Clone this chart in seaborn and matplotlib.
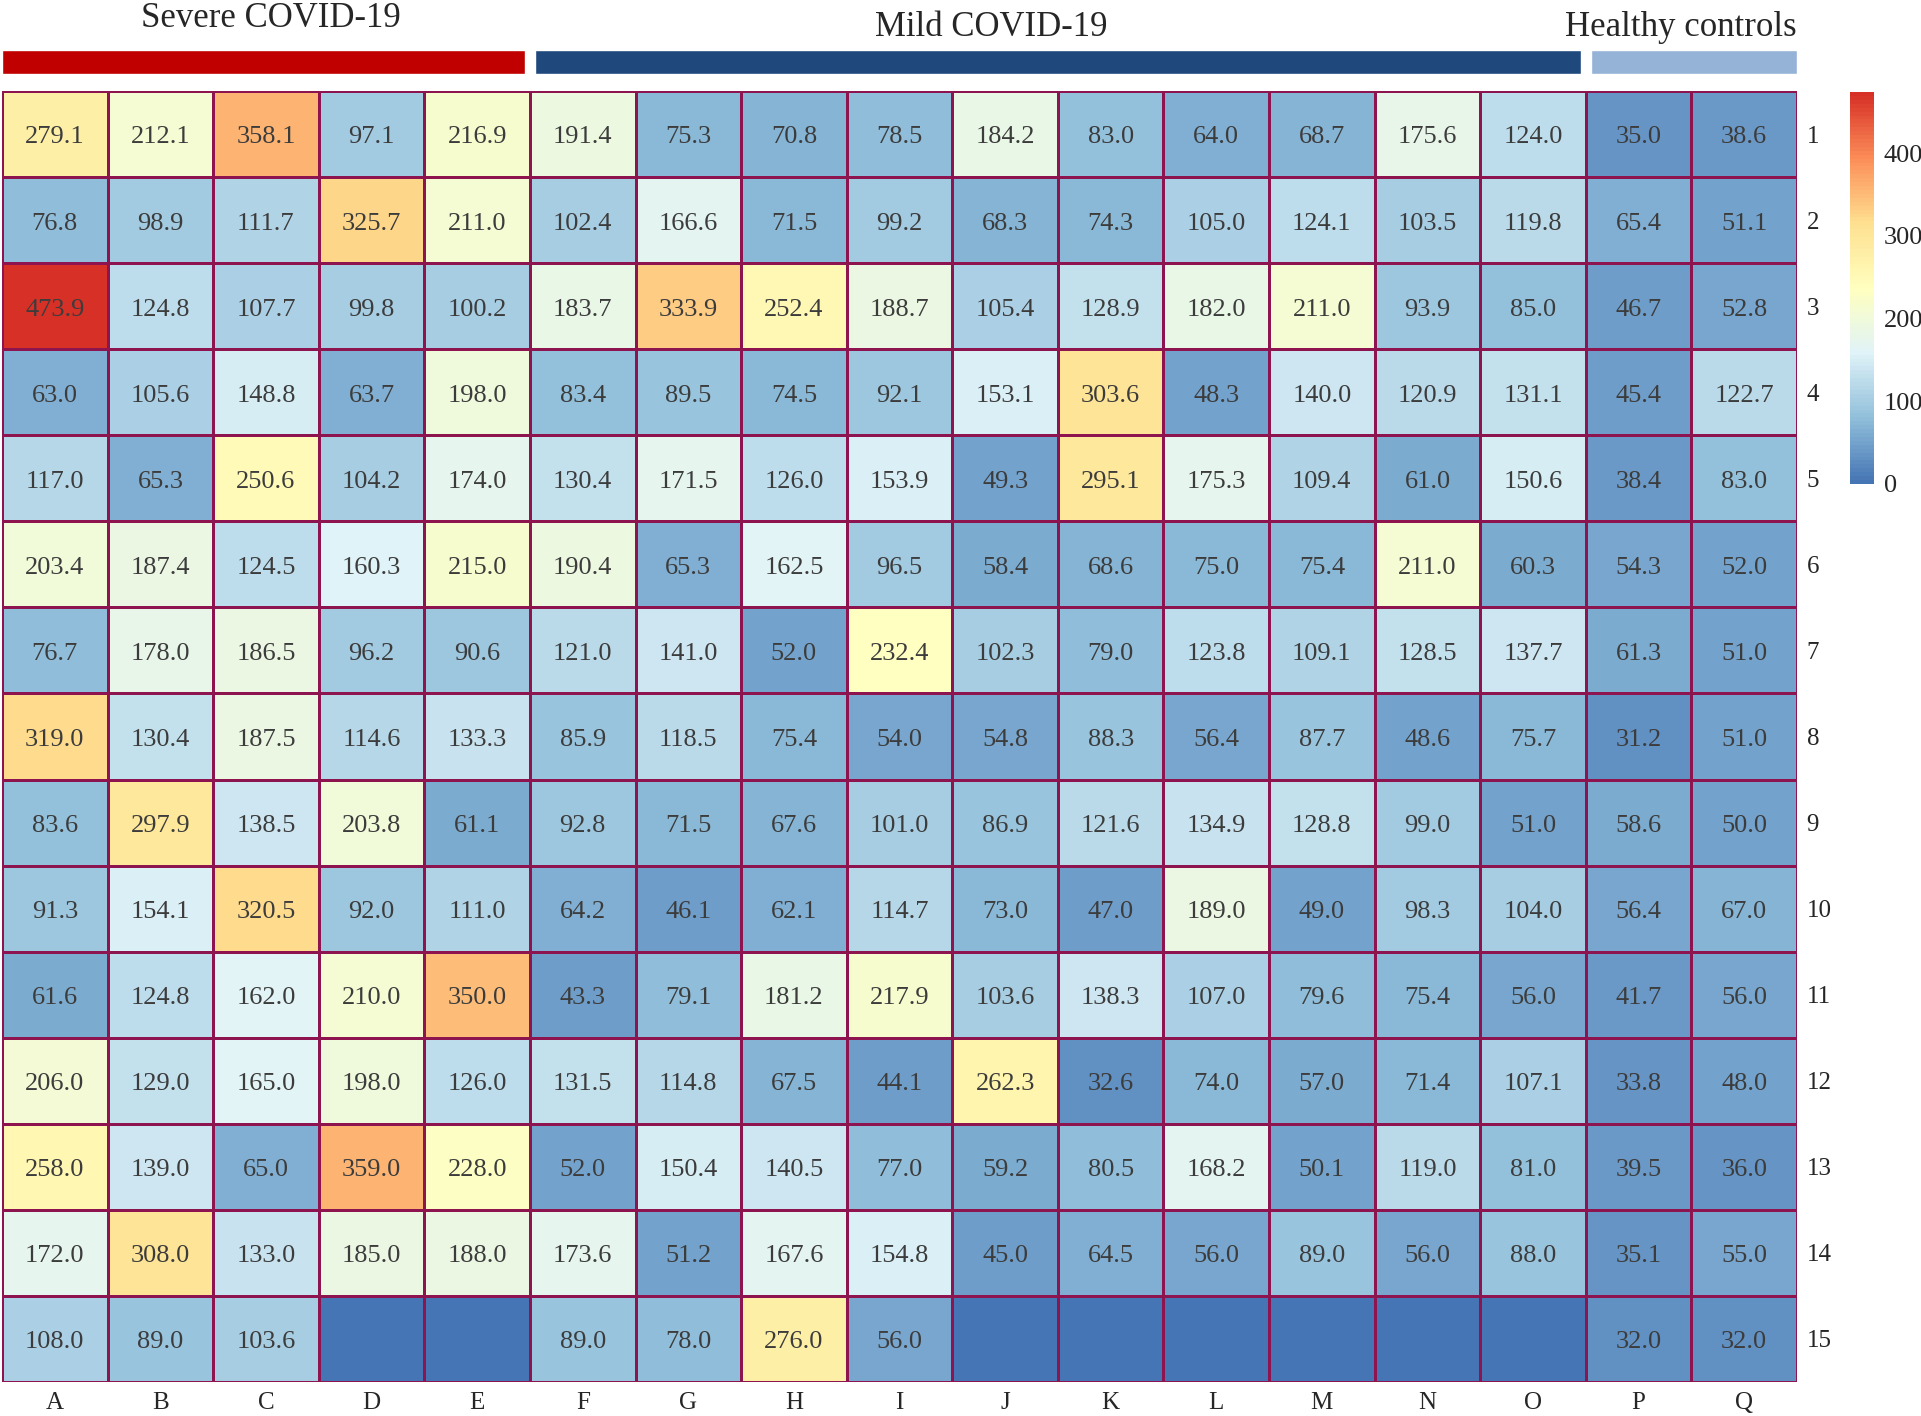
import numpy as np
import pandas as pd
import matplotlib
matplotlib.use("Agg")
import matplotlib.pyplot as plt
from matplotlib.colors import LinearSegmentedColormap
import seaborn as sns

# data (rows 1-15, samples A-Q); NaN = empty cell
samples = list("ABCDEFGHIJKLMNOPQ")
rows = [str(i) for i in range(1, 16)]

r1 = [279.1, 212.1, 358.1, 97.1, 216.9, 191.4, 75.3, 70.8, 78.5, 184.2, 83.0, 64.0, 68.7, 175.6, 124.0, 35.0, 38.6]
r2 = [76.8, 98.9, 111.7, 325.7, 211.0, 102.4, 166.6, 71.5, 99.2, 68.3, 74.3, 105.0, 124.1, 103.5, 119.8, 65.4, 51.1]
r3 = [473.9, 124.8, 107.7, 99.8, 100.2, 183.7, 333.9, 252.4, 188.7, 105.4, 128.9, 182.0, 211.0, 93.9, 85.0, 46.7, 52.8]
r4 = [63.0, 105.6, 148.8, 63.7, 198.0, 83.4, 89.5, 74.5, 92.1, 153.1, 303.6, 48.3, 140.0, 120.9, 131.1, 45.4, 122.7]
r5 = [117.0, 65.3, 250.6, 104.2, 174.0, 130.4, 171.5, 126.0, 153.9, 49.3, 295.1, 175.3, 109.4, 61.0, 150.6, 38.4, 83.0]
r6 = [203.4, 187.4, 124.5, 160.3, 215.0, 190.4, 65.3, 162.5, 96.5, 58.4, 68.6, 75.0, 75.4, 211.0, 60.3, 54.3, 52.0]
r7 = [76.7, 178.0, 186.5, 96.2, 90.6, 121.0, 141.0, 52.0, 232.4, 102.3, 79.0, 123.8, 109.1, 128.5, 137.7, 61.3, 51.0]
r8 = [319.0, 130.4, 187.5, 114.6, 133.3, 85.9, 118.5, 75.4, 54.0, 54.8, 88.3, 56.4, 87.7, 48.6, 75.7, 31.2, 51.0]
r9 = [83.6, 297.9, 138.5, 203.8, 61.1, 92.8, 71.5, 67.6, 101.0, 86.9, 121.6, 134.9, 128.8, 99.0, 51.0, 58.6, 50.0]
r10 = [91.3, 154.1, 320.5, 92.0, 111.0, 64.2, 46.1, 62.1, 114.7, 73.0, 47.0, 189.0, 49.0, 98.3, 104.0, 56.4, 67.0]
r11 = [61.6, 124.8, 162.0, 210.0, 350.0, 43.3, 79.1, 181.2, 217.9, 103.6, 138.3, 107.0, 79.6, 75.4, 56.0, 41.7, 56.0]
r12 = [206.0, 129.0, 165.0, 198.0, 126.0, 131.5, 114.8, 67.5, 44.1, 262.3, 32.6, 74.0, 57.0, 71.4, 107.1, 33.8, 48.0]
r13 = [258.0, 139.0, 65.0, 359.0, 228.0, 52.0, 150.4, 140.5, 77.0, 59.2, 80.5, 168.2, 50.1, 119.0, 81.0, 39.5, 36.0]
r14 = [172.0, 308.0, 133.0, 185.0, 188.0, 173.6, 51.2, 167.6, 154.8, 45.0, 64.5, 56.0, 89.0, 56.0, 88.0, 35.1, 55.0]
r15 = [108.0, 89.0, 103.6, np.nan, np.nan, 89.0, 78.0, 276.0, 56.0, np.nan, np.nan, np.nan, np.nan, np.nan, np.nan, 32.0, 32.0]

groups = ["Severe COVID-19", "Mild COVID-19", "Healthy controls"]
group_sizes = [5, 10, 2]
group_colors = ["#C00000", "#1F497D", "#95B3D7"]

cbar_ticks = [0, 100, 200, 300, 400]

df = pd.DataFrame([r1, r2, r3, r4, r5, r6, r7, r8, r9, r10, r11, r12, r13, r14, r15],
                  index=rows, columns=samples)
labels = df.map(lambda v: "" if pd.isna(v) else f"{v:.1f}")

# pheatmap-style palette
cmap = LinearSegmentedColormap.from_list(
    "rdylbu", ["#4575B4", "#91BFDB", "#E0F3F8", "#FFFFBF", "#FEE090", "#FC8D59", "#D73027"], N=100)

sns.set_style("white")
plt.rcParams["font.family"] = ["Liberation Serif", "DejaVu Serif"]

W, H = 1921, 1416
fig = plt.figure(figsize=(W / 100, H / 100), dpi=100)

hm_l, hm_r, hm_t, hm_b = 2, 1797, 91, 1382
ax = fig.add_axes([hm_l / W, 1 - hm_b / H, (hm_r - hm_l) / W, (hm_b - hm_t) / H])
cax = fig.add_axes([1850 / W, 1 - 484 / H, 24 / W, (484 - 92) / H])

sns.heatmap(df.fillna(0), ax=ax, cbar_ax=cax, cmap=cmap, vmin=0, vmax=474,
            annot=labels, fmt="", linewidths=1.8, linecolor="#8E1450",
            annot_kws={"fontsize": 19, "color": "#3C3C3C", "fontfamily": "Liberation Serif"},
            cbar_kws={"ticks": cbar_ticks})

# numbers sit slightly below the cell centre in the reference
for t in ax.texts:
    x, y = t.get_position()
    t.set_position((x, y + 0.04))

ax.tick_params(axis="both", length=0, labelsize=18)
ax.tick_params(axis="x", pad=7)
ax.yaxis.tick_right()
ax.tick_params(axis="y", pad=7, labelrotation=0)
ax.set_xlabel("")
ax.set_ylabel("")

cax.tick_params(length=0, labelsize=19, pad=7)
ax.collections[0].colorbar.outline.set_visible(False)

# group header bars and labels
hax = fig.add_axes([hm_l / W, 1 - hm_t / H, (hm_r - hm_l) / W, hm_t / H])
hax.set_xlim(0, len(samples))
hax.set_ylim(hm_t, 0)
hax.axis("off")
gap = 0.045
start = 0
label_x = [2.55, 9.37, 17.0]
label_ha = ["center", "center", "right"]
label_y = [27, 36, 36]
for i, (name, size, color) in enumerate(zip(groups, group_sizes, group_colors)):
    left = start + (gap if i > 0 else 0)
    right = start + size - (gap if i < len(groups) - 1 else 0)
    hax.barh(62, right - left, left=left, height=24, color=color)
    hax.text(label_x[i], label_y[i], name, ha=label_ha[i], va="baseline", fontsize=25)
    start += size

fig.savefig("out.png", dpi=100)
